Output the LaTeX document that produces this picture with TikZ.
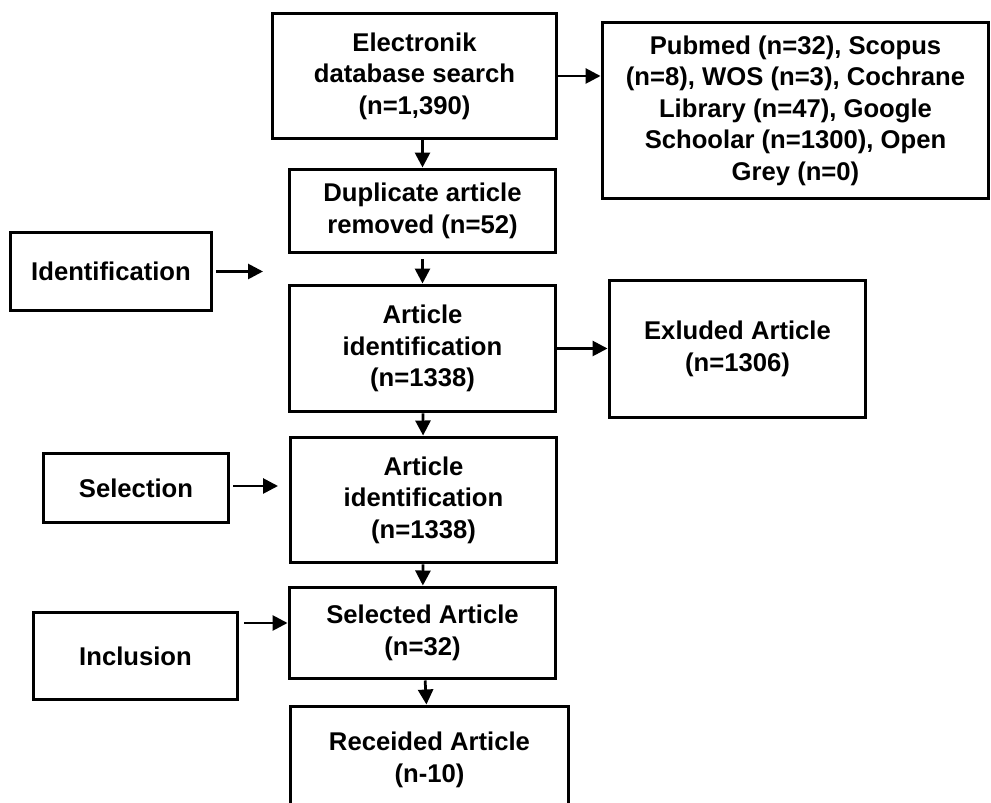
\documentclass[tikz,border=0pt]{standalone}
\usepackage{fontspec}
\setmainfont{Liberation Sans}
\usetikzlibrary{arrows.meta}
\begin{document}
\begin{tikzpicture}[x=.02cm,y=-.02cm,
  box/.style={draw,line width=.06cm,align=center,inner sep=0pt,
    font=\fontsize{14.6}{17.9}\selectfont\bfseries},
  arr/.style={line width=.055cm,-{Triangle[length=.3cm,width=.3cm]}}]
\useasboundingbox (0,0) rectangle (991,803);
\node[box,minimum width=5.70cm,minimum height=2.52cm] (elec) at (414.5,76) {Electronik\\database search\\(n=1,390)};
\node[box,minimum width=7.74cm,minimum height=3.54cm] (pub) at (795.5,110.5) {Pubmed (n=32), Scopus\\(n=8), WOS (n=3), Cochrane\\Library (n=47), Google\\Schoolar (n=1300), Open\\Grey (n=0)};
\node[box,minimum width=5.34cm,minimum height=1.68cm] (dup) at (422.5,211) {Duplicate article\\removed (n=52)};
\node[box,minimum width=4.04cm,minimum height=1.58cm] (ident) at (111,271.5) {Identification};
\node[box,minimum width=5.34cm,minimum height=2.54cm] (art1) at (422.5,348.5) {Article\\identification\\(n=1338)};
\node[box,minimum width=5.14cm,minimum height=2.76cm] (excl) at (737.5,349) {Exluded Article\\(n=1306)};
\node[box,minimum width=3.72cm,minimum height=1.40cm] (sel) at (136,488) {Selection};
\node[box,minimum width=5.34cm,minimum height=2.52cm] (art2) at (423.5,500) {Article\\identification\\(n=1338)};
\node[box,minimum width=5.34cm,minimum height=1.84cm] (selart) at (422.5,633) {Selected Article\\(n=32)};
\node[box,minimum width=4.10cm,minimum height=1.76cm] (incl) at (135.5,656) {Inclusion};
\node[box,minimum width=5.58cm,minimum height=2.16cm] (rec) at (429.5,760) {Receided Article\\(n-10)};
\coordinate (identend) at (263,271.5);
\coordinate (selend) at (278,486);
\coordinate (inclstart) at (244,623);
\draw[arr] (elec.east) -- (elec.east -| pub.west);
\draw[arr] (elec.south -| dup.north) -- (dup.north);
\draw[arr,shorten <=.1cm] (dup) -- (art1);
\draw[arr] (art1.east) -- (art1.east -| excl.west);
\draw[arr] (art1) -- (art2);
\draw[arr] (art2) -- (selart);
\draw[arr] (selart) -- (rec);
\draw[arr,shorten <=.06cm] (ident.east) -- (identend);
\draw[arr,shorten <=.06cm] (sel.east |- selend) -- (selend);
\draw[arr] (inclstart) -- (inclstart -| selart.west);
\end{tikzpicture}
\end{document}
